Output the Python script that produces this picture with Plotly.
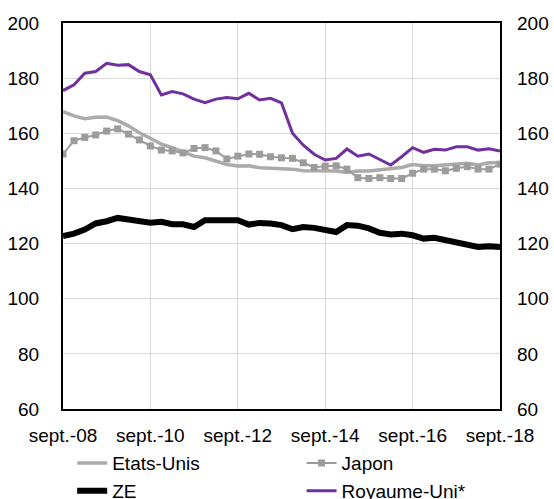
import plotly.graph_objects as go
import pandas as pd

quarters = pd.date_range("2008-09-30", periods=41, freq="QE")
tick_dates = ["2008-09-30", "2010-09-30", "2012-09-30", "2014-09-30", "2016-09-30", "2018-09-30"]
tick_labels = ["sept.-08", "sept.-10", "sept.-12", "sept.-14", "sept.-16", "sept.-18"]

etats_unis = [167.9, 166.3, 165.3, 165.8, 165.9, 164.6, 162.7, 160.2, 158.2, 156.1,
              154.8, 153.3, 151.7, 151.1, 150.0, 148.7, 148.1, 148.2, 147.5, 147.3,
              147.3, 147.0, 146.4, 146.3, 146.3, 146.3, 145.8, 146.3, 146.3, 146.7,
              147.1, 147.6, 148.7, 148.2, 148.2, 148.5, 148.8, 149.1, 148.5, 149.3, 149.3]
japon = [152.5, 157.3, 158.5, 159.4, 160.8, 161.6, 159.7, 157.6, 155.4, 153.9,
         153.6, 152.9, 154.5, 154.8, 153.6, 150.7, 151.7, 152.5, 152.4, 151.5,
         151.1, 150.9, 149.3, 147.6, 148.1, 148.2, 147.0, 143.9, 143.6, 143.9,
         143.6, 143.6, 145.5, 147.0, 147.0, 146.4, 147.3, 147.9, 147.0, 147.0, 148.8]
ze = [122.7, 123.6, 125.1, 127.3, 128.1, 129.3, 128.7, 128.2, 127.6, 127.9,
      127.0, 127.0, 126.0, 128.5, 128.5, 128.7, 128.5, 126.9, 127.5, 127.3,
      126.7, 125.2, 126.0, 125.7, 124.8, 124.2, 126.7, 126.5, 125.5, 123.9,
      123.3, 123.6, 123.0, 121.8, 122.1, 121.2, 120.2, 119.4, 118.8, 119.0, 118.8]
royaume_uni = [175.5, 177.6, 181.8, 182.4, 185.4, 184.7, 184.9, 182.4, 181.2, 173.9,
               175.1, 174.3, 172.4, 171.1, 172.4, 173.0, 172.5, 174.5, 172.1, 172.7,
               171.0, 160.0, 155.7, 152.4, 150.3, 150.9, 154.3, 151.7, 152.5, 150.5,
               148.5, 151.5, 154.8, 153.1, 154.2, 153.9, 155.1, 155.1, 153.9, 154.4, 153.6]

FONT = "Liberation Sans, Arial, sans-serif"

fig = go.Figure()
fig.add_trace(go.Scatter(x=quarters, y=etats_unis, name="Etats-Unis", mode="lines",
                         line=dict(color="#ababab", width=3.5), legend="legend"))
fig.add_trace(go.Scatter(x=quarters, y=japon, name="Japon", mode="lines+markers",
                         line=dict(color="#9c9c9c", width=2),
                         marker=dict(symbol="square", size=7, color="#9c9c9c"),
                         legend="legend2"))
fig.add_trace(go.Scatter(x=quarters, y=ze, name="ZE", mode="lines",
                         line=dict(color="#000000", width=6), legend="legend"))
fig.add_trace(go.Scatter(x=quarters, y=royaume_uni, name="Royaume-Uni*", mode="lines",
                         line=dict(color="#7030a0", width=3), legend="legend2",
                         yaxis="y2"))

fig.update_layout(
    width=554, height=499,
    margin=dict(l=63, r=54, t=23, b=90, autoexpand=False),
    paper_bgcolor="white", plot_bgcolor="white",
    font=dict(family=FONT, size=19, color="#000000"),
    xaxis=dict(range=[quarters[0], quarters[-1]], tickvals=tick_dates, ticktext=tick_labels,
               showgrid=True, gridcolor="#d9d9d9", gridwidth=1,
               showline=True, linecolor="#000000", linewidth=2, mirror=True,
               ticks="", tickfont=dict(size=19), zeroline=False, ticklabelstandoff=8,
               automargin=False),
    yaxis=dict(range=[60, 200], dtick=20, showgrid=True, gridcolor="#d9d9d9", gridwidth=1,
               showline=True, linecolor="#000000", linewidth=2, mirror=True,
               ticks="", tickfont=dict(size=19), zeroline=False, ticklabelstandoff=18,
               automargin=False),
    yaxis2=dict(range=[60, 200], dtick=20, overlaying="y", side="right", showgrid=False,
                showline=False, ticks="", tickfont=dict(size=19), zeroline=False,
                ticklabelstandoff=16, automargin=False),
    legend=dict(x=0.021, y=-0.091, xanchor="left", yanchor="top", orientation="v",
                font=dict(size=19), bgcolor="rgba(0,0,0,0)", tracegroupgap=0),
    legend2=dict(x=0.546, y=-0.091, xanchor="left", yanchor="top", orientation="v",
                 font=dict(size=19), bgcolor="rgba(0,0,0,0)", tracegroupgap=0),
)

fig.write_html("out.html", config={"displayModeBar": False},
               post_script="document.body.style.margin='0';")
